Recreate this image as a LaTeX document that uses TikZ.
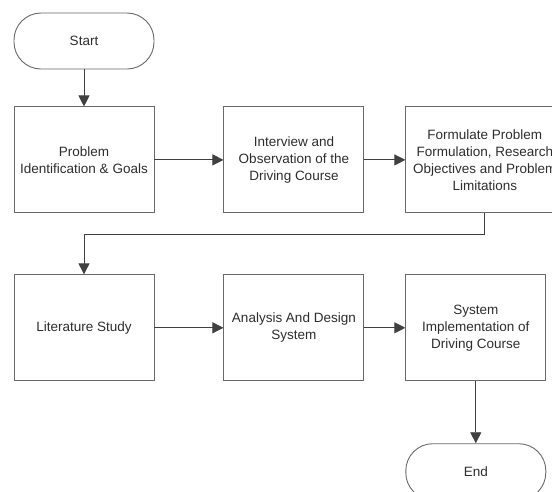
\documentclass[tikz,border=0pt]{standalone}
\usepackage{fontspec}
\setmainfont{Liberation Sans}
\usepackage{xcolor}
\usetikzlibrary{positioning,arrows.meta}

\definecolor{edgegray}{RGB}{105,105,105}
\definecolor{textgray}{RGB}{45,45,45}

\begin{document}
\begin{tikzpicture}[
  x=1pt, y=1pt,
  every node/.style={font=\fontsize{13.5}{17}\selectfont, text=textgray},
  stepbox/.style={rectangle, draw=edgegray, line width=0.9pt,
                  minimum width=140pt, minimum height=106pt,
                  align=center, inner sep=2pt},
  widebox/.style={stepbox, minimum width=158pt},
  term/.style={rectangle, draw=edgegray, line width=0.9pt,
               rounded corners=27pt,
               minimum width=140pt, minimum height=56pt,
               align=center},
  flowarrow/.style={-{Triangle[length=11pt,width=11pt]}, line width=0.9pt, black!75}
]
\useasboundingbox (0,0) rectangle (552,-491);

\node[term]                           (start) at (84,-41) {Start};
\node[stepbox, below=37pt of start]   (ident) {Problem\\Identification \& Goals};
\node[stepbox, right=69pt of ident]   (interv) {Interview and\\Observation of the\\Driving Course};
\node[widebox, right=41pt of interv]  (formul) {Formulate Problem\\Formulation, Research\\Objectives and Problem\\Limitations};
\node[stepbox, below=61pt of ident]   (litstudy) {Literature Study};
\node[stepbox, right=69pt of litstudy] (design) {Analysis And Design\\System};
\node[stepbox, right=41pt of design]  (implem) {System\\Implementation of\\Driving Course};
\node[term,    below=62pt of implem]  (finish) {End};

\draw[flowarrow] (start)    -- (ident);
\draw[flowarrow] (ident)    -- (interv);
\draw[flowarrow] (interv)   -- (interv -| formul.west);
\draw[flowarrow] (formul.south) -- ++(0,-21) -| (litstudy.north);
\draw[flowarrow] (litstudy) -- (design);
\draw[flowarrow] (design)   -- (implem);
\draw[flowarrow] (implem)   -- (finish);

\end{tikzpicture}
\end{document}
